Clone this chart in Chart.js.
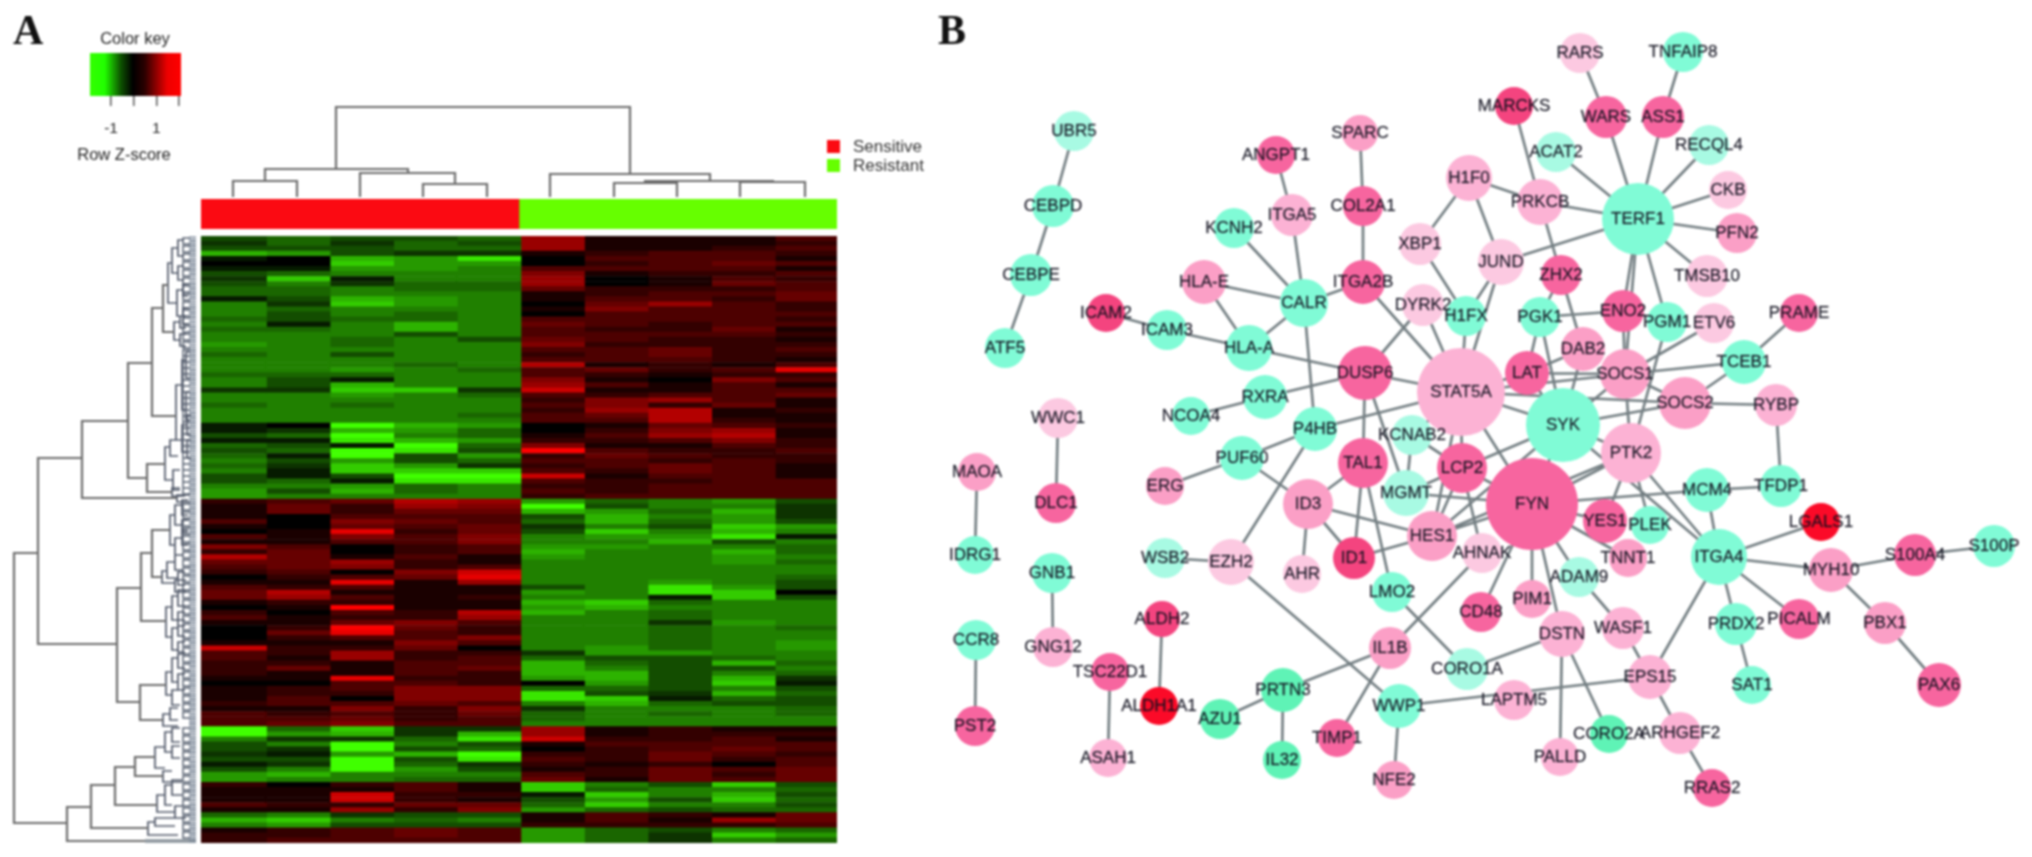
<!DOCTYPE html>
<html><head><meta charset="utf-8">
<script src="https://cdn.jsdelivr.net/npm/chart.js@4"></script>
<style>
html,body{margin:0;padding:0;background:#fff;width:2032px;height:857px;overflow:hidden}
canvas{position:absolute;filter:blur(.8px)}
#heat{filter:blur(1px)}
</style></head><body>
<canvas id="heat" style="left:201px;top:236px"></canvas>
<canvas id="side" style="left:201px;top:199px"></canvas>
<canvas id="key" style="left:80px;top:53px"></canvas>
<canvas id="net" style="left:0;top:0"></canvas>
<script>
// ---------- Panel A: heat-map values (row Z-score x 5), one array per sample ----------
const S1=[-3,-2,-3,-7,-1,0,-1,-3,-2,-3,-4,-4,-1,-5,-5,-5,-4,-5,-4,-5,-5,-6,-5,-4,-5,-5,-5,-4,-5,-5,-2,-5,-5,-4,-5,-5,-5,-1,-1,-3,-1,-4,-3,-4,-5,-4,-5,-3,-3,-5,-6,-6,
2,1,1,1,3,1,0,3,1,5,2,7,4,3,2,0,1,3,4,4,1,0,2,3,1,0,0,0,1,8,3,3,2,2,2,1,0,1,1,1,2,1,3,3,3,
-10,-10,-5,-3,-3,-2,-3,-1,-3,-6,-6,2,1,1,1,3,1,-4,-7,-5,1,2,2];
const S2=[-4,-4,-3,-6,0,0,-1,-4,-8,-5,-4,-4,-3,-2,-4,-3,-3,-1,-4,-5,-5,-5,-5,-5,-5,-5,-5,-4,-3,-3,-2,-5,-5,-5,-5,-5,-5,0,-2,-4,-1,-3,-4,-1,-3,-2,-1,-1,-4,-5,-3,-5,
3,4,4,0,0,0,1,1,1,3,4,4,4,4,3,2,1,2,7,6,2,1,0,1,1,2,4,2,1,2,2,1,2,4,1,1,0,2,2,3,3,1,2,3,4,
-4,-6,-2,-5,-2,-1,-3,-2,-5,-7,-5,0,1,1,1,2,1,-5,-8,-6,2,2,3];
const S3=[-3,-2,-3,-3,-7,-8,-6,-5,-1,-2,-5,-5,-7,-8,-5,-5,-4,-5,-5,-5,-4,-4,-5,-3,-5,-5,-6,-4,-1,-7,-8,-6,-5,-4,-5,-5,-5,-10,-7,-10,-9,-1,-10,-10,-6,-8,-8,-3,-1,-6,-7,-5,
4,2,2,3,5,4,9,5,3,0,0,1,6,5,0,3,9,3,1,3,2,10,3,2,4,10,9,3,1,2,6,6,1,1,1,9,3,3,2,0,3,5,3,4,5,
-8,-7,-2,-10,-10,-6,-10,-10,-10,-5,-5,2,1,8,8,2,6,-2,-5,-3,3,3,3];
const S4=[-3,-4,-4,-2,-6,-6,-6,-5,-5,-4,-4,-5,-6,-6,-5,-4,-4,-7,-7,-3,-5,-5,-5,-5,-5,-4,-5,-5,-5,-5,-8,-5,-5,-5,-5,-5,-5,-7,-6,-5,-7,-10,-9,-3,-3,-6,-8,-10,-9,-4,-4,-5,
7,6,4,3,4,3,2,3,3,2,2,3,2,2,5,4,1,1,1,1,1,1,2,2,5,4,3,3,5,4,2,2,3,3,3,2,3,5,5,5,4,2,2,2,3,
-2,-2,-4,-5,-3,-7,-3,-4,-6,-5,-4,3,3,2,2,4,2,-3,-4,-3,4,4,3];
const S5=[-4,-3,-4,-2,-9,-6,-5,-5,-5,-4,-4,-5,-5,-5,-5,-5,-5,-5,-5,-5,-3,-5,-5,-5,-5,-5,-4,-5,-5,-5,-2,-4,-5,-5,-5,-4,-5,-6,-4,-4,-6,-4,-3,-6,-4,-2,-8,-10,-9,-5,-5,-5,
6,5,4,3,3,4,4,5,5,3,3,1,1,3,8,9,6,1,1,2,1,1,7,6,3,2,2,5,3,0,2,3,3,4,2,2,2,5,5,5,3,5,4,3,3,
-2,-7,-9,-3,-4,-10,-9,-2,-3,-5,-4,1,1,2,1,4,5,-3,-5,-3,3,3,3];
const R1=[6,6,6,1,0,0,3,5,6,6,4,1,1,0,1,0,3,4,3,3,4,5,3,2,3,7,3,3,5,6,8,3,2,3,2,3,3,0,0,1,2,5,10,2,3,2,3,8,3,2,3,2,
-6,-10,-7,-3,-4,-2,-3,-5,-5,-6,-7,-6,-5,-5,-5,-5,-5,-3,-6,-5,-7,-6,-7,-5,-5,-5,-5,-5,-5,-5,-2,-4,-7,-7,-7,-6,0,-4,-9,-9,-5,-2,-4,-4,-5,
6,6,8,1,0,2,3,2,1,3,4,-8,-8,-1,-3,-4,-6,1,1,2,-6,-6,-6];
const R2=[1,1,1,2,3,2,3,1,0,0,2,2,3,4,5,3,3,3,2,3,3,2,3,3,3,1,4,2,1,3,1,2,5,5,6,4,3,1,2,3,2,1,3,4,3,3,2,1,2,2,2,3,
-4,-3,-6,-7,-7,-5,-8,-6,-5,-6,-5,-5,-5,-5,-5,-5,-5,-5,-5,-5,-8,-7,-5,-5,-5,-5,-5,-5,-5,-6,-6,-3,-4,-5,-7,-7,-6,-4,-3,-8,-7,-5,-5,-5,-5,
1,1,2,3,2,2,2,1,2,2,1,-5,-4,-8,-6,-8,-4,3,3,2,-4,-4,-4];
const R3=[1,1,1,3,3,3,3,2,1,1,2,3,3,6,3,3,3,2,2,3,2,2,4,4,3,2,2,1,0,1,1,3,6,2,7,7,7,4,5,6,3,1,2,3,2,4,4,3,2,3,3,3,
-5,-5,-4,-5,-4,-3,-5,-6,-7,-5,-5,-5,-5,-5,-5,-5,-6,-9,-9,-1,-4,-5,-4,-4,-2,-4,-4,-4,-4,-4,-6,-3,-3,-3,-3,-3,-3,-3,-2,-1,-4,-5,-4,-5,-5,
2,2,2,3,3,4,4,2,4,4,4,-3,-5,-5,-3,-5,-3,2,1,2,-3,-2,-2];
const R4=[1,1,2,3,3,4,3,2,3,4,2,3,2,3,3,3,3,3,4,3,2,2,2,2,2,1,3,2,5,3,3,3,3,4,1,1,2,3,6,7,5,3,2,2,3,3,3,3,3,3,3,3,
-6,-5,-7,-6,-6,-8,-7,-9,-3,-5,-7,-6,-6,-5,-5,-5,-5,-6,-8,-8,-5,-5,-5,-5,-6,-5,-5,-5,-5,-5,-5,-4,-7,-3,-5,-7,-8,-5,-7,-4,-3,-5,-5,-5,-5,
1,2,3,3,4,3,2,0,3,2,3,-8,-5,-7,-8,-5,-4,1,6,2,-5,-8,-5];
const R5=[3,2,3,2,1,3,1,3,2,3,3,4,4,2,2,3,2,3,1,2,1,2,3,2,1,3,9,2,3,1,3,4,1,1,2,1,1,2,1,1,2,2,3,2,2,1,1,1,3,3,3,3,
-3,-2,-2,-2,-3,-6,-5,-1,-5,-4,-4,-5,-4,-5,-5,-4,-3,-3,0,-3,-5,-5,-5,-5,-5,-4,-5,-5,-6,-6,-5,-5,-4,-5,-4,-2,-1,-3,-4,-3,-3,-4,-4,-5,-5,
1,2,1,3,3,2,3,3,4,4,4,-3,-4,-3,-4,-3,-4,4,4,3,-4,-6,-4];
const sampleColumns=[S1,S2,S3,S4,S5,R1,R2,R3,R4,R5];
const groupNames=['Sensitive','Resistant'];
const groupSizes=[5,5];

// ---------- Panel A: dendrograms in page units; [stem, y1, y2, end1, end2] ----------
const rowTree=[[14,553,823,38,67],[38,458,644,82,117],[82,421,498,128,177],[128,363,478,152,147],[152,308,416,163,176],[163,285,332,168,174],[147,464,492,165,172],
[117,588,702,141,140],[141,553,621,152,166],[152,530,577,170,162],[140,685,720,166,163],[67,807,841,91,145],[91,785,828,115,148],[115,767,805,135,157],[135,757,776,155,163]];
const rowFringe=[[168,263,303,172,177],[172,248,273,178,178],[178,240,256,184,184],[178,266,280,184,184],[177,290,316,183,183],[183,284,296,188,188],[183,308,324,188,188],
[174,322,340,180,180],[180,316,328,186,186],[180,334,346,186,186],[176,385,440,182,182],[182,360,410,186,186],[186,352,378,190,190],[186,392,420,190,190],[182,425,452,187,187],[187,415,435,191,191],[187,440,458,191,191],
[165,447,480,170,173],[170,440,456,178,178],[173,470,490,180,180],[172,488,496,180,185],[177,495,502,190,190],
[170,515,545,175,175],[175,505,525,182,182],[182,500,515,188,188],[182,520,532,188,188],[175,538,555,182,182],[182,530,545,188,188],
[162,571,583,167,175],[167,562,578,175,178],[175,555,570,183,183],[178,572,585,185,185],[175,580,592,186,186],
[166,607,637,172,172],[172,596,620,178,178],[178,590,606,185,185],[178,612,626,185,185],[172,628,650,178,178],[178,620,636,185,185],[178,642,652,185,185],
[166,672,695,172,172],[172,658,682,178,178],[178,654,668,185,185],[178,674,690,185,185],[172,690,705,180,180],[163,714,726,170,178],[170,708,720,178,178],
[155,747,768,165,165],[165,732,752,172,172],[172,728,742,180,180],[172,746,758,180,180],[163,771,782,172,182],[157,795,812,165,175],[165,785,805,172,172],[172,780,795,182,182],[175,806,818,183,186],[148,822,835,155,178],[155,818,826,175,175]];
// smallest twigs of the row tree: top y of each
const rowTwigs=[238,246,254,262,270,278,286,294,302,310,318,326,334,342,350,356,362,368,374,380,386,392,398,404,410,416,422,428,434,440,446,452,458,464,470,476,482,488,
504,512,520,528,536,544,552,560,568,576,584,592,600,608,616,624,632,640,648,656,664,672,680,688,696,704,712,728,736,744,752,760,768,776,784,792,800,808,816,824,832];
// top dendrogram: [stemY, x1, x2, end1, end2]
const colTree=[[107,336,630,169,174],[169,265,408,181,173],[181,233,297,197,197],[173,360,455,197,184],[184,423,487,197,197],
[174,550,710,197,181],[181,645,773,183,182],[183,614,677,197,197],[182,740,805,197,197]];

// ---------- Panel B: network ----------
const nodeNames=['UBR5','CEBPD','CEBPE','ATF5','ICAM2','ICAM3','HLA-E','HLA-A','CALR','KCNH2',
'ITGA5','ANGPT1','SPARC','COL2A1','ITGA2B','XBP1','H1F0','DYRK2','H1FX','DUSP6',
'RXRA','NCOA4','WWC1','STAT5A','LAT','SYK','FYN','PTK2','SOCS1','SOCS2',
'DAB2','ENO2','PGK1','PGM1','ETV6','ZHX2','JUND','PRKCB','TERF1','ACAT2',
'MARCKS','RARS','WARS','ASS1','TNFAIP8','RECQL4','CKB','PFN2','TMSB10','PRAME',
'TCEB1','RYBP','P4HB','KCNAB2','TAL1','LCP2','MGMT','ID3','HES1','ID1',
'AHR','AHNAK','YES1','PLEK','TNNT1','ADAM9','PUF60','ERG','MAOA','IDRG1',
'DLC1','GNB1','GNG12','CCR8','PST2','WSB2','EZH2','LMO2','IL1B','TSC22D1',
'ALDH2','ALDH1A1','ASAH1','AZU1','PRTN3','IL32','TIMP1','WWP1','NFE2','CORO1A',
'PIM1','CD48','DSTN','WASF1','EPS15','LAPTM5','CORO2A','ARHGEF2','PALLD','RRAS2',
'ITGA4','MCM4','TFDP1','LGALS1','MYH10','S100A4','S100P','PICALM','PBX1','PAX6',
'PRDX2','SAT1'];
const nodeX=[1074,1053,1031,1005,1106,1167,1204,1249,1304,1234,
1292,1276,1360,1363,1363,1420,1469,1423,1466,1365,
1265,1191,1058,1461,1527,1563,1532,1631,1625,1685,
1583,1623,1540,1667,1714,1561,1501,1540,1638,1556,
1514,1580,1606,1663,1683,1709,1728,1737,1707,1799,
1744,1776,1315,1412,1363,1462,1406,1308,1432,1354,
1302,1482,1605,1650,1628,1579,1242,1165,977,975,
1056,1052,1053,976,975,1165,1231,1392,1390,1110,
1162,1159,1108,1220,1283,1282,1337,1399,1394,1467,
1532,1481,1562,1623,1650,1514,1609,1680,1560,1712,
1719,1707,1781,1821,1831,1915,1994,1799,1885,1939,
1736,1752];
const nodeY=[131,206,275,348,313,330,282,348,303,228,
215,155,133,206,282,244,178,305,316,373,
397,416,418,392,373,425,504,453,374,403,
349,311,317,322,323,275,262,202,219,152,
106,53,117,117,52,145,190,233,276,313,
362,405,429,435,463,468,493,504,536,558,
574,553,521,525,558,577,458,486,472,555,
503,573,647,640,726,558,562,592,648,672,
619,706,758,719,690,760,738,706,780,669,
599,612,634,628,677,700,734,733,757,788,
557,490,486,522,570,555,546,619,623,685,
624,685];
const nodeSize=[20,21,21,20,19,20,22,23,24,20,
21,19,18,20,22,21,23,21,20,27,
22,19,20,44,22,37,46,30,25,26,
22,21,20,20,20,20,23,23,36,20,
19,20,21,21,20,20,19,20,21,19,
22,21,22,20,25,25,23,25,25,21,
19,20,22,19,19,20,22,19,19,19,
20,20,20,20,20,20,23,20,21,19,
18,19,19,20,22,19,19,22,19,21,
19,20,23,21,22,20,19,21,19,19,
28,22,21,19,22,21,21,20,21,22,
21,19];
const nodeClass=[0,1,1,1,6,1,4,1,1,1,
8,5,4,5,5,3,8,3,1,5,
1,1,3,8,5,1,5,8,4,4,
4,5,1,1,3,5,3,8,1,0,
6,3,5,5,1,0,3,4,3,5,
1,8,1,0,5,5,0,4,4,6,
3,3,5,1,4,0,1,4,4,1,
5,1,8,1,5,0,3,1,4,5,
6,7,8,2,2,2,5,1,4,0,
4,5,8,8,8,8,2,8,8,5,
1,1,1,7,4,5,1,5,4,5,
1,1];
const edgeFrom=['UBR5','CEBPD','CEBPE','ANGPT1','ITGA5','KCNH2','SPARC','COL2A1','ITGA2B','ITGA2B','HLA-E','HLA-E','CALR','CALR','ICAM2','ICAM3','HLA-A','DUSP6','DUSP6','RXRA','DUSP6','DUSP6','DUSP6','H1F0','XBP1','H1F0','H1F0','JUND','JUND','DYRK2','H1FX','JUND','P4HB','P4HB','P4HB','PUF60','PUF60','TAL1','TAL1','TAL1','ID3','ID3','ID3','ID1','WSB2','EZH2','LMO2','IL1B','IL1B','IL1B','PRTN3','PRTN3','WWP1','WWP1','CORO1A','DSTN','DSTN','DSTN','WASF1','WASF1','EPS15','EPS15','ARHGEF2','ITGA4','ITGA4','ITGA4','ITGA4','ITGA4','ITGA4','ITGA4','MCM4','MCM4','TFDP1','MYH10','S100A4','MYH10','PBX1','PRDX2','TERF1','TERF1','TERF1','TERF1','TERF1','TERF1','TERF1','TERF1','TERF1','TERF1','TERF1','TERF1','MARCKS','RARS','TNFAIP8','PRKCB','ZHX2','ZHX2','PGK1','PGK1','PGK1','ENO2','PGM1','ETV6','PRAME','TCEB1','TCEB1','RYBP','SOCS1','SOCS1','SOCS1','SOCS1','SOCS1','SOCS2','SOCS2','DAB2','DAB2','LAT','LAT','STAT5A','STAT5A','STAT5A','STAT5A','SYK','SYK','SYK','SYK','FYN','FYN','FYN','FYN','FYN','FYN','FYN','FYN','FYN','LCP2','LCP2','LCP2','LCP2','KCNAB2','HES1','YES1','PTK2','HES1'];
const edgeTo=['CEBPD','CEBPE','ATF5','ITGA5','CALR','CALR','COL2A1','ITGA2B','CALR','STAT5A','CALR','HLA-A','HLA-A','P4HB','ICAM3','HLA-A','DUSP6','STAT5A','RXRA','NCOA4','DYRK2','TAL1','MGMT','XBP1','H1FX','JUND','PRKCB','H1FX','TERF1','STAT5A','STAT5A','STAT5A','STAT5A','PUF60','EZH2','ERG','ID3','ID3','ID1','LMO2','AHR','ID1','HES1','HES1','EZH2','WWP1','CORO1A','AHNAK','PRTN3','TIMP1','AZU1','IL32','NFE2','EPS15','DSTN','CORO2A','PALLD','FYN','ADAM9','EPS15','ARHGEF2','ITGA4','RRAS2','MCM4','PTK2','SYK','LGALS1','MYH10','PICALM','PRDX2','TFDP1','FYN','RYBP','S100A4','S100P','PBX1','PAX6','SAT1','PRKCB','ACAT2','WARS','ASS1','RECQL4','CKB','PFN2','TMSB10','PGM1','ENO2','JUND','SOCS1','PRKCB','WARS','ASS1','ZHX2','PGK1','DAB2','ENO2','LAT','SYK','SOCS1','PTK2','SOCS1','TCEB1','SOCS1','SOCS2','SOCS2','SOCS2','LAT','STAT5A','SYK','PTK2','SYK','STAT5A','LAT','SYK','STAT5A','SYK','SYK','FYN','LCP2','KCNAB2','FYN','PTK2','LCP2','HES1','LCP2','HES1','MGMT','PTK2','YES1','TNNT1','PIM1','CD48','ADAM9','KCNAB2','HES1','MGMT','AHNAK','MGMT','STAT5A','PTK2','PLEK','PTK2'];
// edges of the isolated two-node modules
const pairFrom=['MAOA','WWC1','GNB1','CCR8','ALDH2','TSC22D1'];
const pairTo=['IDRG1','DLC1','GNG12','PST2','ALDH1A1','ASAH1'];

const textItems=[
 ['A',13,44,'bold 42px "Liberation Serif"','left','#111'],['B',938,44,'bold 42px "Liberation Serif"','left','#111'],
 ['Color key',135,44,'16.5px "Liberation Sans"','center','#222'],['Row Z-score',124,160,'16.5px "Liberation Sans"','center','#222'],
 ['Sensitive',853,152,'17px "Liberation Sans"','left','#333'],['Resistant',853,171,'17px "Liberation Sans"','left','#333']];

// ---------- style helpers (not data) ----------
const palette=['#a8fae3','#80fbd6','#5ff3b6','#fcc9e1','#fb9fc6','#f7659f','#f4447f','#fb0a28','#fcb2d4'];
const lineCol='rgba(100,112,116,.9)';
const W=2032,H=857;
function zColor(v){
  const a=Math.abs(v)/10;
  return v>=0?`rgb(${Math.round(255*a)},0,0)`:`rgb(${Math.round(255*a*.25)},${Math.round(255*a)},0)`;
}
const gap={x:NaN,y:NaN};
function rowSegs(list){const o=[];for(const [s,a,b,e1,e2] of list){o.push({x:e1,y:a},{x:s,y:a},{x:s,y:b},{x:e2,y:b},gap);}return o;}
function colSegs(list){const o=[];for(const [s,a,b,e1,e2] of list){o.push({x:a,y:e1},{x:a,y:s},{x:b,y:s},{x:b,y:e2},gap);}return o;}
const idx=Object.fromEntries(nodeNames.map((n,i)=>[n,i]));
const edgePts=[];
const allFrom=edgeFrom.concat(pairFrom),allTo=edgeTo.concat(pairTo);
allFrom.forEach((f,i)=>{const a=idx[f],b=idx[allTo[i]];edgePts.push({x:nodeX[a],y:nodeY[a]},{x:nodeX[b],y:nodeY[b]},gap);});
const rowCount=S1.length, heatTop=236, heatH=607;
const leafPts=[];
for(let i=0;i<rowCount*2;i++){const y=heatTop+(i+.5)*heatH/(rowCount*2);leafPts.push({x:189,y},{x:196,y},gap);}
const twigPts=rowSegs(rowTwigs.map(y=>[183,y,y+6,190,190]));
function lineSet(data,color,width){return {type:'scatter',data,showLine:true,borderColor:color,borderWidth:width,pointRadius:0,spanGaps:false,fill:false,clip:false,tension:0};}

function make(id,w,h,cfg){
  const c=document.getElementById(id);c.width=w;c.height=h;c.style.width=w+'px';c.style.height=h+'px';
  cfg.options=Object.assign({responsive:false,animation:false,devicePixelRatio:1,plugins:{legend:{display:false},tooltip:{enabled:false}},events:[]},cfg.options||{});
  return new Chart(c,cfg);
}

// heat map: each sample is one overlapping floating bar per row
make('heat',636,607,{type:'bar',
 data:{labels:S1.map((_,i)=>'row '+(i+1)),datasets:sampleColumns.map((col,c)=>({data:col.map(()=>[c,c===9?10:c+1.03]),backgroundColor:col.map(zColor),borderWidth:0,barPercentage:1,categoryPercentage:1,grouped:false,order:c}))},
 options:{indexAxis:'y',layout:{padding:0,autoPadding:false},scales:{x:{display:false,min:0,max:10},y:{display:false}}}});

// column side bar
make('side',636,30,{type:'bar',
 data:{labels:['group'],datasets:groupNames.map((n,i)=>({label:n,data:[groupSizes[i]],backgroundColor:['#fb0a12','#66ff00'][i],borderWidth:0,barPercentage:1,categoryPercentage:1}))},
 options:{indexAxis:'y',layout:{autoPadding:false},scales:{x:{stacked:true,display:false,min:0,max:10},y:{stacked:true,display:false}}}});

// colour key
make('key',115,87,{type:'bar',
 data:{labels:['key'],datasets:[{data:[[-1.93,2.09]],borderWidth:0,barPercentage:1,categoryPercentage:1,
   backgroundColor(ctx){const a=ctx.chart.chartArea;if(!a)return '#000';const g=ctx.chart.ctx.createLinearGradient(a.left,0,a.right,0);
     g.addColorStop(0,'#33ff00');g.addColorStop(.16,'#22ff00');g.addColorStop(.34,'#0d5000');g.addColorStop(.47,'#000');g.addColorStop(.6,'#2a0000');g.addColorStop(.85,'#ee0000');g.addColorStop(1,'#ff0000');return g;}}]},
 options:{indexAxis:'y',layout:{padding:{left:10,right:14,top:0,bottom:0}},
  scales:{y:{display:false},
   x:{min:-1.93,max:2.09,afterBuildTicks(s){s.ticks=[-1,0,1,2].map(v=>({value:v}));},afterFit(s){s.height=44;},
     border:{display:false},grid:{drawOnChartArea:false,drawTicks:true,tickLength:10,color:'#555',lineWidth:1.5},
     ticks:{autoSkip:false,maxRotation:0,padding:13,color:'#222',font:{family:'"Liberation Sans"',size:15.5},callback(v){return v===-1?'-1':v===1?'1':'';}}}}}});

// network, dendrograms and text
const textPlugin={id:'texts',afterDatasetsDraw(chart){
  const ctx=chart.ctx,xs=chart.scales.x,ys=chart.scales.y;
  ctx.save();ctx.textBaseline='middle';ctx.textAlign='center';ctx.fillStyle='rgba(16,16,30,.95)';ctx.strokeStyle='rgba(16,16,30,.55)';ctx.lineWidth=.35;ctx.font='17px "Liberation Sans"';
  nodeNames.forEach((n,i)=>{const x=xs.getPixelForValue(nodeX[i]),y=ys.getPixelForValue(nodeY[i]);ctx.strokeText(n,x,y);ctx.fillText(n,x,y);});
  ctx.textBaseline='alphabetic';
  for(const [t,x,y,f,al,col] of textItems){ctx.font=f;ctx.textAlign=al;ctx.fillStyle=col;ctx.fillText(t,x,y);}
  ctx.restore();}};
make('net',W,H,{type:'scatter',plugins:[textPlugin],
 data:{datasets:[
  {data:nodeX.map((x,i)=>({x,y:nodeY[i]})),pointRadius:nodeSize,backgroundColor:nodeClass.map(c=>palette[c]),borderWidth:0,pointHoverRadius:nodeSize,clip:false},
  {data:[{x:833.5,y:146.5}],pointStyle:'rect',pointRadius:9.2,backgroundColor:'#fb0a12',borderWidth:0},
  {data:[{x:833.5,y:165.5}],pointStyle:'rect',pointRadius:9.2,backgroundColor:'#66ff00',borderWidth:0},
  lineSet(edgePts,lineCol,2.7),
  lineSet(rowSegs(rowTree),'#6c6c6c',2.2),
  lineSet(colSegs(colTree),'#6c6c6c',2.2),
  lineSet(rowSegs(rowFringe),'#525a6a',1.7),
  lineSet(twigPts,'#5c6574',1.5),
  lineSet(leafPts,'#7f8b9b',1.7),
  lineSet([{x:145,y:841},{x:196,y:841}],'#8a939b',3.5)
 ]},
 options:{layout:{padding:0,autoPadding:false},scales:{x:{type:'linear',display:false,min:0,max:W},y:{type:'linear',display:false,min:0,max:H,reverse:true}}}});
</script>
</body></html>
